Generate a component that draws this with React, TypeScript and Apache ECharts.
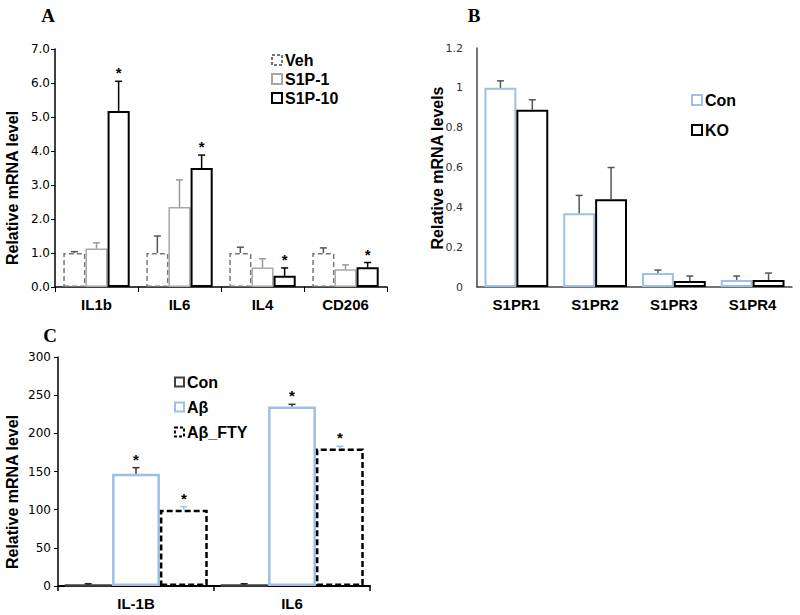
import React, { useEffect, useRef } from "react";
import * as echarts from "echarts";

// Panel A
const catsA = ["IL1b", "IL6", "IL4", "CD206"];
const vehA = [1.0, 1.0, 1.0, 1.0];
const vehErrA = [1.04, 1.5, 1.17, 1.15];
const s1p1A = [1.13, 2.35, 0.57, 0.52];
const s1p1ErrA = [1.3, 3.15, 0.83, 0.65];
const s1p10A = [5.18, 3.5, 0.33, 0.58];
const s1p10ErrA = [6.05, 3.88, 0.56, 0.72];
const starsA = [true, true, true, true];
const ticksA = [0, 1, 2, 3, 4, 5, 6, 7];

// Panel B
const catsB = ["S1PR1", "S1PR2", "S1PR3", "S1PR4"];
const conB = [1.0, 0.37, 0.07, 0.035];
const conErrB = [1.035, 0.46, 0.085, 0.055];
const koB = [0.89, 0.44, 0.03, 0.035];
const koErrB = [0.94, 0.6, 0.055, 0.07];

// Panel C
const catsC = ["IL-1B", "IL6"];
const conC = [1, 1];
const conErrC = [3, 3];
const abC = [147, 235];
const abErrC = [155, 238];
const ftyC = [100, 180];
const ftyErrC = [104, 183];
const starsC = [true, true];

const BLUE = "#9cc0e8";
const FONT = "Liberation Sans, Arial, sans-serif";
const TICKFONT = "DejaVu Sans, sans-serif";

function errSeries(
  axis: number,
  vals: number[],
  errs: number[],
  stars: boolean[] | null,
  k: number,
  n: number,
  gap: number,
  color: string
) {
  return {
    type: "custom",
    xAxisIndex: axis,
    yAxisIndex: axis,
    z: 5,
    silent: true,
    data: vals.map((v, i) => [i, v, errs[i], stars && stars[i] ? 1 : 0]),
    encode: { x: 0, y: [1, 2] },
    renderItem: (params: any, api: any) => {
      const i = api.value(0);
      const v = api.value(1);
      const e = api.value(2);
      const s = api.value(3);
      const base = api.coord([i, v]);
      const top = api.coord([i, e]);
      const band = api.size([1, 0])[0];
      const gw = band * (1 - gap);
      const bw = gw / n;
      const x = base[0] - gw / 2 + bw * (k + 0.5);
      const children: any[] = [
        {
          type: "line",
          shape: { x1: x, y1: base[1], x2: x, y2: top[1] },
          style: { stroke: color, lineWidth: 1.5 },
        },
        {
          type: "line",
          shape: { x1: x - 3.5, y1: top[1], x2: x + 3.5, y2: top[1] },
          style: { stroke: color, lineWidth: 1.5 },
        },
      ];
      if (s) {
        children.push({
          type: "text",
          x: x,
          y: top[1] - 1,
          style: {
            text: "*",
            fill: "#000",
            font: "bold 15px " + FONT,
            textAlign: "center",
            textVerticalAlign: "bottom",
          },
        });
      }
      return { type: "group", children };
    },
  };
}

function bar(
  name: string,
  axis: number,
  data: number[],
  border: string,
  width: number,
  type: any,
  gap: string
) {
  return {
    name,
    type: "bar",
    xAxisIndex: axis,
    yAxisIndex: axis,
    data,
    barGap: "0%",
    barCategoryGap: gap,
    itemStyle: {
      color: "#fff",
      borderColor: border,
      borderWidth: width,
      borderType: type,
    },
  };
}

function legendItems(
  x: number,
  y0: number,
  step: number,
  items: { label: string; color: string; dash: any; size: number }[]
) {
  const out: any[] = [];
  items.forEach((it, i) => {
    const y = y0 + i * step;
    out.push({
      type: "rect",
      shape: { x: x, y: y - it.size / 2, width: it.size, height: it.size },
      style: { fill: "#fff", stroke: it.color, lineWidth: 2, lineDash: it.dash },
    });
    out.push({
      type: "text",
      x: x + it.size + 3,
      y: y,
      style: {
        text: it.label,
        fill: "#000",
        font: "bold 16px " + FONT,
        textVerticalAlign: "middle",
      },
    });
  });
  return out;
}

function vText(text: string, x: number, y: number) {
  return {
    type: "text",
    x,
    y,
    rotation: Math.PI / 2,
    style: {
      text,
      fill: "#000",
      font: "bold 16px " + FONT,
      textAlign: "center",
      textVerticalAlign: "middle",
    },
  };
}

function letter(text: string, x: number, y: number) {
  return {
    type: "text",
    x,
    y,
    style: {
      text,
      font: "bold 19px Liberation Serif, Times New Roman, serif",
      fill: "#000",
      textAlign: "center",
      textVerticalAlign: "middle",
    },
  };
}

export default function App() {
  const ref = useRef<HTMLDivElement>(null);
  useEffect(() => {
    if (!ref.current) return;
    const chart = echarts.init(ref.current, null, { renderer: "svg" });
    const catLabel = { fontFamily: FONT, fontWeight: "bold", fontSize: 15, color: "#000", margin: 10 };
    chart.setOption({
      animation: false,
      backgroundColor: "#fff",
      grid: [
        { left: 55, top: 49, width: 332, height: 238 },
        { left: 477, top: 48, width: 315, height: 239 },
        { left: 58, top: 357, width: 312, height: 229 },
      ],
      xAxis: [
        {
          type: "category",
          gridIndex: 0,
          data: catsA,
          axisLine: { lineStyle: { color: "#000", width: 1.5 } },
          axisTick: { show: true, length: 5, lineStyle: { color: "#000" } },
          axisLabel: catLabel,
        },
        {
          type: "category",
          gridIndex: 1,
          data: catsB,
          axisLine: { lineStyle: { color: "#444", width: 1.5 } },
          axisTick: { show: false },
          axisLabel: catLabel,
        },
        {
          type: "category",
          gridIndex: 2,
          data: catsC,
          axisLine: { lineStyle: { color: "#000", width: 2 } },
          axisTick: { show: true, length: 5, lineStyle: { color: "#000", width: 1.5 } },
          axisLabel: catLabel,
        },
      ],
      yAxis: [
        {
          type: "value",
          gridIndex: 0,
          min: ticksA[0],
          max: ticksA[ticksA.length - 1],
          interval: 1,
          axisLine: { show: true, lineStyle: { color: "#000", width: 1.5 } },
          axisTick: { show: true, length: 4, lineStyle: { color: "#000" } },
          axisLabel: {
            fontFamily: TICKFONT,
            fontSize: 12,
            color: "#000",
            margin: 5,
            formatter: (v: number) => v.toFixed(1),
          },
          splitLine: { show: false },
        },
        {
          type: "value",
          gridIndex: 1,
          min: 0,
          max: 1.2,
          interval: 0.2,
          axisLine: { show: true, lineStyle: { color: "#444", width: 1.5 } },
          axisTick: { show: false },
          axisLabel: { fontFamily: TICKFONT, fontSize: 11, color: "#333", margin: 14 },
          splitLine: { show: false },
        },
        {
          type: "value",
          gridIndex: 2,
          min: 0,
          max: 300,
          interval: 50,
          axisLine: { show: true, lineStyle: { color: "#000", width: 1.5 } },
          axisTick: { show: true, length: 4, lineStyle: { color: "#000" } },
          axisLabel: { fontFamily: TICKFONT, fontSize: 12, color: "#000", margin: 7 },
          splitLine: { show: false },
        },
      ],
      series: [
        bar("Veh", 0, vehA, "#777", 1.5, [5, 3], "20%"),
        bar("S1P-1", 0, s1p1A, "#a8a8a8", 1.5, "solid", "20%"),
        bar("S1P-10", 0, s1p10A, "#000", 2, "solid", "20%"),
        errSeries(0, vehA, vehErrA, null, 0, 3, 0.2, "#555"),
        errSeries(0, s1p1A, s1p1ErrA, null, 1, 3, 0.2, "#999"),
        errSeries(0, s1p10A, s1p10ErrA, starsA, 2, 3, 0.2, "#000"),

        bar("Con", 1, conB, BLUE, 2, "solid", "19%"),
        bar("KO", 1, koB, "#000", 2, "solid", "19%"),
        errSeries(1, conB, conErrB, null, 0, 2, 0.19, "#555"),
        errSeries(1, koB, koErrB, null, 1, 2, 0.19, "#555"),

        bar("Con C", 2, conC, "#404040", 2.5, "solid", "8%"),
        bar("Aβ", 2, abC, BLUE, 2.5, "solid", "8%"),
        bar("Aβ_FTY", 2, ftyC, "#000", 2.5, [6, 3], "8%"),
        errSeries(2, conC, conErrC, null, 0, 3, 0.08, "#222"),
        errSeries(2, abC, abErrC, starsC, 1, 3, 0.08, "#333"),
        errSeries(2, ftyC, ftyErrC, starsC, 2, 3, 0.08, BLUE),
      ],
      graphic: [
        letter("A", 48, 15),
        letter("B", 474, 15),
        letter("C", 50, 335),
        vText("Relative mRNA level", 12, 188),
        vText("Relative mRNA levels", 437, 168),
        vText("Relative mRNA level", 12, 492),
        ...legendItems(272, 60, 19, [
          { label: "Veh", color: "#777", dash: [3, 2], size: 10 },
          { label: "S1P-1", color: "#a8a8a8", dash: null, size: 10 },
          { label: "S1P-10", color: "#000", dash: null, size: 10 },
        ]),
        ...legendItems(692, 100, 30, [
          { label: "Con", color: BLUE, dash: null, size: 10 },
          { label: "KO", color: "#000", dash: null, size: 10 },
        ]),
        ...legendItems(175, 382, 25, [
          { label: "Con", color: "#404040", dash: null, size: 9 },
          { label: "Aβ", color: BLUE, dash: null, size: 9 },
          { label: "Aβ_FTY", color: "#000", dash: [3, 2], size: 9 },
        ]),
      ],
    });
    return () => chart.dispose();
  }, []);
  return (
    <div
      ref={ref}
      style={{ position: "absolute", left: 0, top: 0, width: 800, height: 615 }}
    />
  );
}
